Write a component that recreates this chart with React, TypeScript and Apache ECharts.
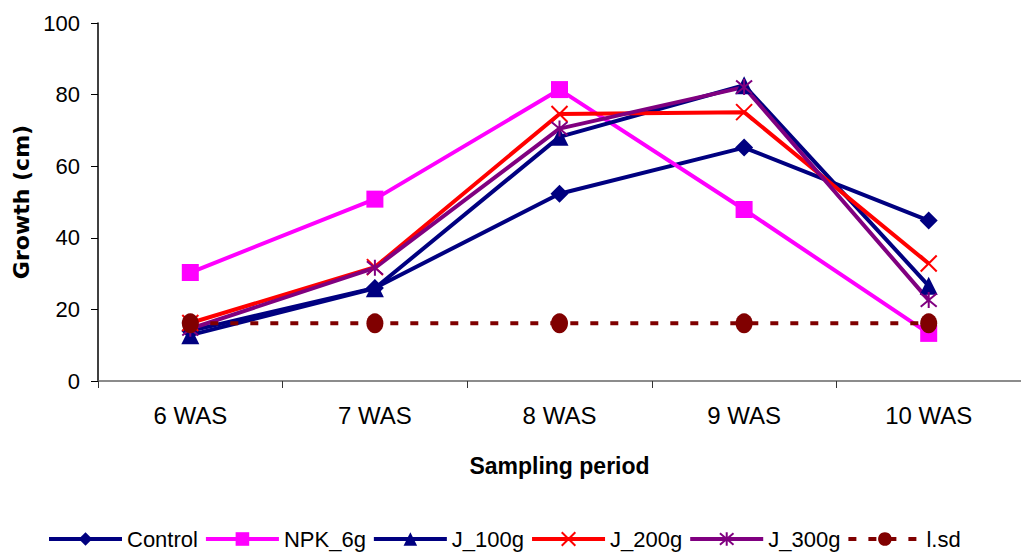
import React, { useEffect, useRef } from "react";
import * as echarts from "echarts";

const categories = ["6 WAS", "7 WAS", "8 WAS", "9 WAS", "10 WAS"];
const control = [14, 26, 52.3, 65.2, 44.8];
const npk6g = [30.3, 50.8, 81.4, 47.9, 13.3];
const j100g = [12.8, 25.9, 68.2, 82.6, 26.6];
const j200g = [16.2, 31.8, 74.6, 75.1, 32.8];
const j300g = [14.6, 31.6, 70.5, 82.1, 22.6];
const lsd = [16.1, 16.1, 16.1, 16.1, 16.1];
const yTicks = { min: 0, max: 100, interval: 20 };

const FONT = "'Liberation Sans', Arial, sans-serif";
const X_SYM = "path://M0 0 L10 10 M10 0 L0 10";
const STAR_SYM = "path://M0 0 L10 10 M10 0 L0 10 M5 -1 L5 11";

export default function App() {
  const ref = useRef<HTMLDivElement>(null);
  useEffect(() => {
    if (!ref.current) return;
    const chart = echarts.init(ref.current, null, { renderer: "svg" });
    const mk = (name: string, data: number[], color: string, symbol: string, size: any, extra: any = {}) => ({
      name,
      type: "line",
      data,
      symbol,
      symbolSize: size,
      lineStyle: { color, width: 4, ...(extra.lineStyle || {}) },
      itemStyle: { color, borderColor: color, borderWidth: extra.borderWidth ?? 0, ...(extra.itemStyle || {}) },
      emphasis: { disabled: true },
    });
    chart.setOption({
      animation: false,
      backgroundColor: "#ffffff",
      textStyle: { fontFamily: FONT },
      grid: { left: 98, top: 23, right: -2, bottom: 178, containLabel: false },
      xAxis: {
        type: "category",
        data: categories,
        boundaryGap: true,
        axisLine: { lineStyle: { color: "#666666", width: 1.5 } },
        axisTick: { show: true, length: 7, lineStyle: { color: "#333333" } },
        axisLabel: { color: "#000", fontSize: 24, margin: 22, fontFamily: FONT },
        name: "Sampling period",
        nameLocation: "middle",
        nameGap: 73,
        nameTextStyle: { color: "#000", fontSize: 23, fontWeight: "bold", fontFamily: FONT },
      },
      yAxis: {
        type: "value",
        min: yTicks.min,
        max: yTicks.max,
        interval: yTicks.interval,
        splitLine: { show: false },
        axisLine: { show: true, lineStyle: { color: "#000000", width: 1.5 } },
        axisTick: { show: true, length: 7, lineStyle: { color: "#000" } },
        axisLabel: { color: "#000", fontSize: 22, margin: 18, fontFamily: FONT },
        name: "Growth (cm)",
        nameLocation: "middle",
        nameGap: 64,
        nameTextStyle: { color: "#000", fontSize: 22, fontWeight: "bold", fontFamily: "'DejaVu Sans', sans-serif" },
      },
      legend: {
        left: 42,
        top: 523,
        itemWidth: 73,
        itemHeight: 17,
        itemGap: 6,
        lineStyle: { width: 4 },
        textStyle: { color: "#000", fontSize: 22, fontFamily: FONT },
        data: ["Control", "NPK_6g", "J_100g", "J_200g", "J_300g", "l.sd"],
      },
      series: [
        mk("Control", control, "#000080", "diamond", 18),
        mk("NPK_6g", npk6g, "#FF00FF", "rect", 17),
        mk("J_100g", j100g, "#000080", "triangle", 18),
        mk("J_200g", j200g, "#FF0000", X_SYM, 16, { borderWidth: 2 }),
        mk("J_300g", j300g, "#800080", STAR_SYM, 16, { borderWidth: 2 }),
        mk("l.sd", lsd, "#800000", "circle", [17, 20], { lineStyle: { type: [8, 12] } }),
      ],
    });
    return () => chart.dispose();
  }, []);
  return (
    <div
      ref={ref}
      style={{ position: "absolute", left: 0, top: 0, width: 1021, height: 559, background: "#fff" }}
    />
  );
}
